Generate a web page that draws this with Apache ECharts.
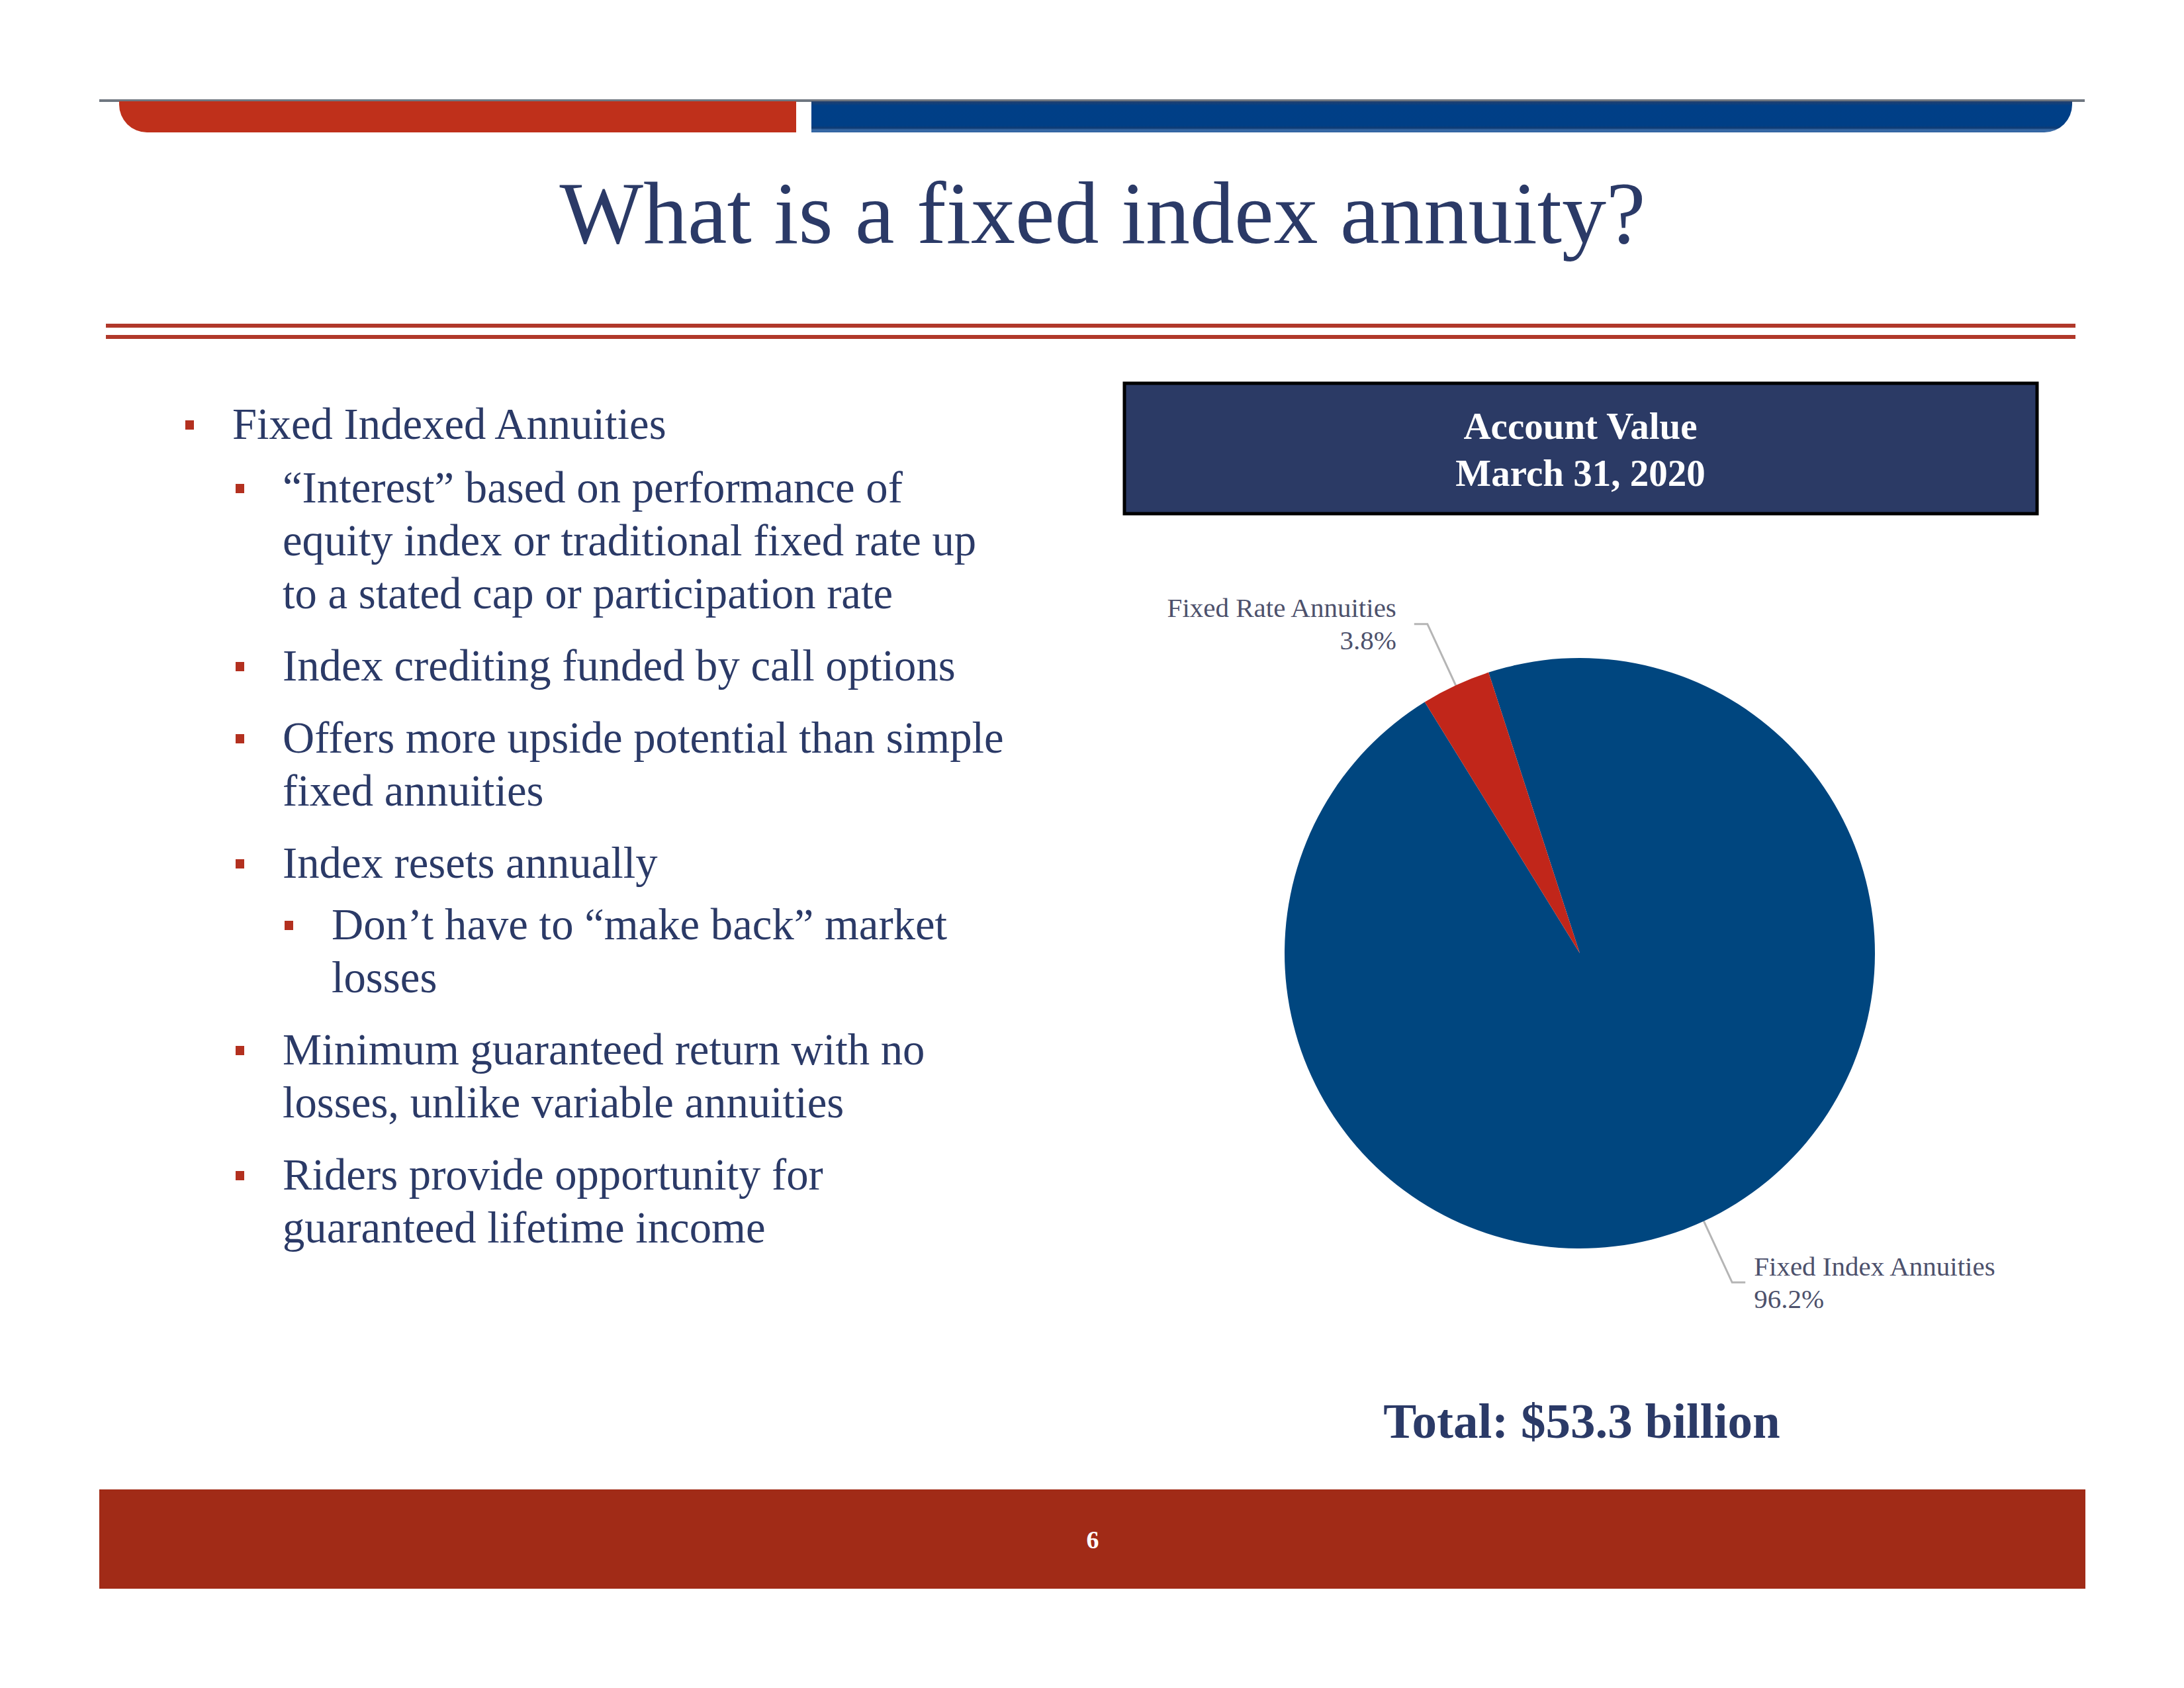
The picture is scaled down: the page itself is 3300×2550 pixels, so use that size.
<!DOCTYPE html>
<html>
<head>
<meta charset="utf-8">
<script src="https://cdn.jsdelivr.net/npm/echarts@6/dist/echarts.min.js"></script>
<style>
html,body{margin:0;padding:0;background:#ffffff;}
#chart{width:3300px;height:2550px;}
</style>
</head>
<body>
<div id="chart"></div>
<script>
// ---------------- data ----------------
const categories = ['Fixed Index Annuities', 'Fixed Rate Annuities'];
const shares = [96.2, 3.8];
const titleText = 'What is a fixed index annuity?';
const boxTitleLines = ['Account Value', 'March 31, 2020'];
const totalText = 'Total: $53.3 billion';
const pageNumber = '6';
const bulletLevels = [1, 2, 2, 2, 2, 3, 2, 2];
const bulletTexts = [
  ['Fixed Indexed Annuities'],
  ['\u201CInterest\u201D based on performance of', 'equity index or traditional fixed rate up', 'to a stated cap or participation rate'],
  ['Index crediting funded by call options'],
  ['Offers more upside potential than simple', 'fixed annuities'],
  ['Index resets annually'],
  ['Don\u2019t have to \u201Cmake back\u201D market', 'losses'],
  ['Minimum guaranteed return with no', 'losses, unlike variable annuities'],
  ['Riders provide opportunity for', 'guaranteed lifetime income']
];

// ---------------- styling / layout ----------------
const SERIF = '"Liberation Serif", "Times New Roman", Times, serif';
const NAVY = '#2b3a67';
const BULLET_RED = '#b3301f';
const sliceColors = ['#00467f', '#c1261a'];

const graphics = [];

// top decorative bars
graphics.push({ type: 'rect', shape: { x: 150, y: 150, width: 3000, height: 4 }, style: { fill: '#6f7781' }, silent: true });
graphics.push({ type: 'rect', shape: { x: 180, y: 153, width: 1023, height: 47, r: [0, 0, 0, 42] }, style: { fill: '#bf301b' }, silent: true });
graphics.push({
  type: 'rect', shape: { x: 1226, y: 153, width: 1905, height: 47, r: [0, 0, 42, 0] },
  style: {
    fill: new echarts.graphic.LinearGradient(0, 0, 0, 1, [
      { offset: 0, color: '#24406c' }, { offset: 0.14, color: '#003f87' },
      { offset: 0.78, color: '#003f86' }, { offset: 0.86, color: '#0f3b73' },
      { offset: 0.92, color: '#3b6ca8' }, { offset: 1, color: '#2f62a0' }
    ])
  }, silent: true
});

// title
graphics.push({
  type: 'text', x: 1666, y: 322,
  style: { text: titleText, font: '134px ' + SERIF, fill: NAVY, textAlign: 'center', textVerticalAlign: 'middle', align: 'center', verticalAlign: 'middle' },
  silent: true
});

// double red rule
graphics.push({ type: 'rect', shape: { x: 160, y: 489, width: 2976, height: 6 }, style: { fill: '#b0382a' }, silent: true });
graphics.push({ type: 'rect', shape: { x: 160, y: 506, width: 2976, height: 6 }, style: { fill: '#b0382a' }, silent: true });

// bullets
const FS = 66.7;
const bulletX = { 1: 280, 2: 356, 3: 430 };
const textX = { 1: 351, 2: 427, 3: 501 };
let baseline = 663;
let prevLevel = null;
bulletTexts.forEach((lines, i) => {
  const lvl = bulletLevels[i];
  if (prevLevel !== null) {
    baseline += (prevLevel === 1 ? 96 : (lvl === 3 ? 93 : 109));
  }
  lines.forEach((ln, j) => {
    if (j > 0) baseline += 80;
    if (j === 0) {
      graphics.push({ type: 'rect', shape: { x: bulletX[lvl], y: baseline - 28, width: 13, height: 14 }, style: { fill: BULLET_RED }, silent: true });
    }
    graphics.push({
      type: 'text', x: textX[lvl], y: baseline - 0.34 * FS,
      style: { text: ln, font: FS + 'px ' + SERIF, fill: NAVY, textAlign: 'left', textVerticalAlign: 'middle', align: 'left', verticalAlign: 'middle' },
      silent: true
    });
  });
  prevLevel = lvl;
});

// header box
graphics.push({ type: 'rect', shape: { x: 1699, y: 579, width: 1379, height: 197 }, style: { fill: '#2b3a65', stroke: '#000000', lineWidth: 5 }, silent: true });
boxTitleLines.forEach((t, i) => {
  graphics.push({
    type: 'text', x: 2388, y: 643 + i * 71,
    style: { text: t, font: 'bold 57px ' + SERIF, fill: '#ffffff', textAlign: 'center', textVerticalAlign: 'middle', align: 'center', verticalAlign: 'middle' },
    silent: true
  });
});

// total
graphics.push({
  type: 'text', x: 2390, y: 2146,
  style: { text: totalText, font: 'bold 75px ' + SERIF, fill: NAVY, textAlign: 'center', textVerticalAlign: 'middle', align: 'center', verticalAlign: 'middle' },
  silent: true
});

// footer
graphics.push({ type: 'rect', shape: { x: 150, y: 2250, width: 3001, height: 150 }, style: { fill: '#a12b17' }, silent: true });
graphics.push({
  type: 'text', x: 1651, y: 2326,
  style: { text: pageNumber, font: 'bold 38px ' + SERIF, fill: '#ffffff', textAlign: 'center', textVerticalAlign: 'middle', align: 'center', verticalAlign: 'middle' },
  silent: true
});

const pieData = categories.map((c, i) => ({
  name: c,
  value: shares[i],
  itemStyle: { color: sliceColors[i] },
  label: { distanceToLabelLine: i === 0 ? 13 : 27 }
}));

const chart = echarts.init(document.getElementById('chart'), null, { renderer: 'svg', width: 3300, height: 2550 });
chart.setOption({
  backgroundColor: '#ffffff',
  animation: false,
  graphic: { elements: graphics },
  series: [{
    type: 'pie',
    center: [2387, 1440],
    radius: 446,
    startAngle: 108,
    clockwise: true,
    avoidLabelOverlap: false,
    silent: true,
    itemStyle: { borderWidth: 0 },
    label: {
      show: true,
      position: 'outside',
      formatter: p => p.name + '\n' + p.value.toFixed(1) + '%',
      fontFamily: SERIF,
      fontSize: 41,
      lineHeight: 49,
      color: '#4d516c'
    },
    labelLine: {
      show: true,
      length: 102,
      length2: 20,
      smooth: false,
      lineStyle: { color: '#b5b5b5', width: 3 }
    },
    emphasis: { disabled: true },
    data: pieData
  }]
});
</script>
</body>
</html>
